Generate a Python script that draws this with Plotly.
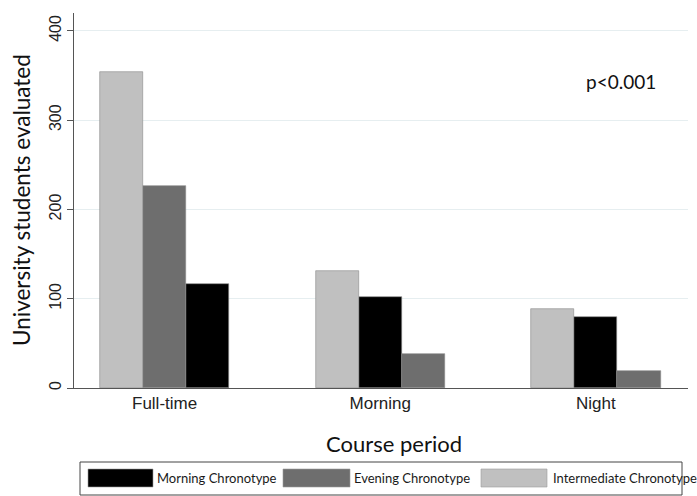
import plotly.graph_objects as go

# Students evaluated per course period, split by chronotype
periods = ["Full-time", "Morning", "Night"]
series_names = ["Morning Chronotype", "Evening Chronotype", "Intermediate Chronotype"]
morning_chrono = [116, 102, 80]
evening_chrono = [226, 38, 19]
intermediate_chrono = [354, 131, 89]
series_values = [morning_chrono, evening_chrono, intermediate_chrono]
series_colors = ["#000000", "#6e6e6e", "#c0c0c0"]
y_ticks = [0, 100, 200, 300, 400]

W, H = 697, 496
L, R, T, B = 74, 9, 13, 108
plot_w, plot_h = W - L - R, H - T - B
BAR_W = 0.2
LABEL_FONT = "Lato"

# within each period the bars are ordered from largest to smallest
slot = [[0] * len(periods) for _ in series_values]
for g in range(len(periods)):
    order = sorted(range(len(series_values)), key=lambda s: -series_values[s][g])
    for rank, s in enumerate(order):
        slot[s][g] = g + (rank - 1) * BAR_W

fig = go.Figure()
for name, vals, xs, col in zip(series_names, series_values, slot, series_colors):
    fig.add_trace(go.Bar(
        x=xs, y=vals, name=name, width=BAR_W,
        marker=dict(color=col, line=dict(color="#8a8a8a", width=0.6)),
        showlegend=False,
    ))


def px_x(px):
    return (px - L) / plot_w


def px_y(py):
    return (H - B - py) / plot_h


shapes = []
annotations = []

# boxed legend below the axis title
shapes.append(dict(type="rect", xref="paper", yref="paper",
                   x0=px_x(80), x1=px_x(682), y0=px_y(462), y1=px_y(495),
                   line=dict(color="#444444", width=1), fillcolor="white", layer="below"))
sw_left = [88, 283, 481]
sw_right = [153, 350, 547]
txt_left = [155, 352, 551]
for name, col, a, b, t in zip(series_names, series_colors, sw_left, sw_right, txt_left):
    shapes.append(dict(type="rect", xref="paper", yref="paper",
                       x0=px_x(a), x1=px_x(b), y0=px_y(469), y1=px_y(487),
                       line=dict(color="#9a9a9a", width=0.6), fillcolor=col))
    annotations.append(dict(xref="paper", yref="paper", x=px_x(t), y=px_y(478),
                            text=name, showarrow=False, xanchor="left", yanchor="middle",
                            font=dict(family=LABEL_FONT, size=13, color="#1a1a1a")))

annotations.append(dict(xref="paper", yref="paper", x=px_x(394), y=px_y(443),
                        text="Course period", showarrow=False, xanchor="center", yanchor="middle",
                        font=dict(family=LABEL_FONT, size=22, color="#111111")))
annotations.append(dict(xref="paper", yref="paper", x=px_x(21), y=px_y(200),
                        text="University students evaluated", showarrow=False, textangle=-90,
                        xanchor="center", yanchor="middle",
                        font=dict(family=LABEL_FONT, size=22.5, color="#111111")))
annotations.append(dict(xref="paper", yref="paper", x=px_x(621), y=px_y(81),
                        text="p<0.001", showarrow=False, xanchor="center", yanchor="middle",
                        font=dict(family=LABEL_FONT, size=19, color="#111111")))

fig.update_layout(
    width=W, height=H,
    margin=dict(l=L, r=R, t=T, b=B),
    paper_bgcolor="white", plot_bgcolor="white",
    bargap=0, barmode="overlay",
    shapes=shapes, annotations=annotations,
    font=dict(family="Liberation Sans", color="#222222"),
)
fig.update_xaxes(
    range=[-0.42, 2.427], tickvals=list(range(len(periods))), ticktext=periods,
    showgrid=False, zeroline=False, showline=True, linecolor="#555555", linewidth=1,
    ticks="", tickfont=dict(family="Liberation Sans", size=17, color="#222222"),
)
fig.update_yaxes(
    range=[0, 420], tickvals=y_ticks, tickangle=-90,
    showgrid=True, gridcolor="#e6eef0", gridwidth=1, zeroline=False,
    showline=True, linecolor="#555555", linewidth=1,
    ticks="outside", ticklen=6, tickcolor="#555555",
    tickfont=dict(family="Liberation Sans", size=16, color="#222222"),
)

fig.write_html("out.html")
